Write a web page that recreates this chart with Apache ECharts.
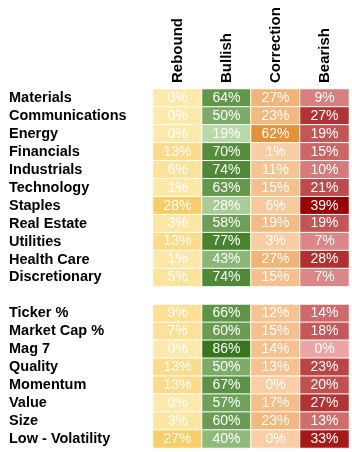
<!DOCTYPE html>
<html>
<head>
<meta charset="utf-8">
<script src="https://cdn.jsdelivr.net/npm/echarts@6/dist/echarts.min.js"></script>
<style>
  html, body { margin: 0; padding: 0; background: #fff; }
  #chart { width: 352px; height: 452px; }
</style>
</head>
<body>
<div id="chart"></div>
<script>
const FONT = '"Liberation Sans", Arial, sans-serif'

// rows (blank entry = spacer between sectors and factors)
const rowLabels = [
  'Materials', 'Communications', 'Energy', 'Financials', 'Industrials',
  'Technology', 'Staples', 'Real Estate', 'Utilities', 'Health Care',
  'Discretionary', ' ',
  'Ticker %', 'Market Cap %', 'Mag 7', 'Quality', 'Momentum', 'Value',
  'Size', 'Low - Volatility'
]
const columns = ['Rebound', 'Bullish', 'Correction', 'Bearish']

// values per column, null for the spacer row
const rebound    = [0, 0, 0, 13, 6, 1, 28, 3, 13, 1, 5, null, 9, 7, 0, 13, 13, 0, 3, 27]
const bullish    = [64, 50, 19, 70, 74, 63, 28, 58, 77, 43, 74, null, 66, 60, 86, 50, 67, 57, 60, 40]
const correction = [27, 23, 62, 1, 11, 15, 6, 19, 3, 27, 15, null, 12, 15, 14, 13, 0, 17, 23, 0]
const bearish    = [9, 27, 19, 15, 10, 21, 39, 19, 7, 28, 7, null, 14, 18, 0, 23, 20, 27, 13, 33]

const columnValues = [rebound, bullish, correction, bearish]
const columnColors = [
  ['#fde9a9', '#f8cd66'],
  ['#b8d9a8', '#38761d'],
  ['#facfa6', '#e69138'],
  ['#eba5a5', '#990000']
]

const chart = echarts.init(document.getElementById('chart'), null, { renderer: 'canvas' })

const series = columnValues.map((vals, ci) => ({
  type: 'heatmap',
  name: columns[ci],
  data: vals.map((v, ri) => (v == null ? null : [ci, ri, v])).filter(d => d),
  itemStyle: { borderColor: '#fff', borderWidth: 1 },
  label: {
    show: true,
    color: '#fff',
    fontFamily: FONT,
    fontSize: 14,
    formatter: (p) => p.value[2] + '%'
  },
  emphasis: { disabled: true }
}))

const visualMaps = columnValues.map((vals, ci) => {
  const nums = vals.filter(v => v != null)
  return {
    show: false,
    type: 'continuous',
    seriesIndex: ci,
    dimension: 2,
    min: Math.min(...nums),
    max: Math.max(...nums),
    inRange: { color: columnColors[ci] }
  }
})

chart.setOption({
  animation: false,
  grid: { left: 153, right: 3, top: 89, bottom: 4 },
  xAxis: {
    type: 'category',
    position: 'top',
    data: columns,
    axisLine: { show: false },
    axisTick: { show: false },
    splitLine: { show: false },
    axisLabel: {
      rotate: -90,
      margin: 6,
      color: '#000',
      fontFamily: FONT,
      fontWeight: 'bold',
      fontSize: 15
    }
  },
  yAxis: {
    type: 'category',
    inverse: true,
    data: rowLabels,
    axisLine: { show: false },
    axisTick: { show: false },
    splitLine: { show: false },
    axisLabel: {
      interval: 0,
      align: 'left',
      margin: 144,
      color: '#000',
      fontFamily: FONT,
      fontWeight: 'bold',
      fontSize: 14.5,
      padding: [4, 0, 0, 0]
    }
  },
  visualMap: visualMaps,
  series
})
</script>
</body>
</html>
